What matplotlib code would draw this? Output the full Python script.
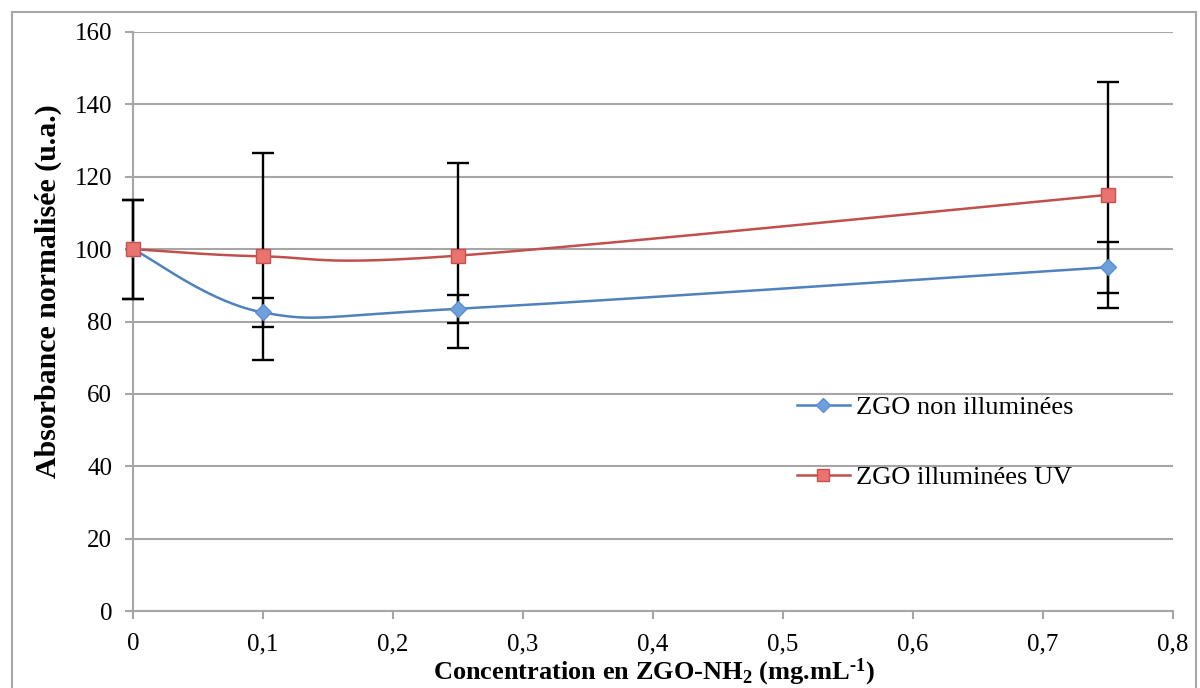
import numpy as np
import matplotlib
matplotlib.use("Agg")
import matplotlib.pyplot as plt
from matplotlib.patches import Rectangle

plt.rcParams['font.family'] = ['Liberation Serif', 'DejaVu Serif']
plt.rcParams['mathtext.fontset'] = 'custom'
plt.rcParams['mathtext.rm'] = 'Liberation Serif:bold'
plt.rcParams['mathtext.bf'] = 'Liberation Serif:bold'
plt.rcParams['mathtext.it'] = 'Liberation Serif:bold'

conc = [0, 0.1, 0.25, 0.75]
non_illum = [100, 82.5, 83.5, 95.0]
non_illum_err = [13.7, 4.0, 3.8, 7.1]
illum_uv = [100, 98.0, 98.2, 115.0]
illum_uv_err = [13.7, 28.6, 25.6, 31.2]
labels = ["ZGO non illuminées", "ZGO illuminées UV"]
xticks = [0, 0.1, 0.2, 0.3, 0.4, 0.5, 0.6, 0.7, 0.8]
yticks = [0, 20, 40, 60, 80, 100, 120, 140, 160]


def smooth(x, y, sx=1300.0, sy=3.619, n=60):
    """Excel-like smoothed line (cardinal Bezier) computed in pixel-scaled space."""
    P = np.column_stack([np.array(x) * sx, np.array(y) * sy])
    out = []
    m = len(P)
    for i in range(m - 1):
        p0 = P[i - 1] if i > 0 else P[i]
        p1 = P[i]
        p2 = P[i + 1]
        p3 = P[i + 2] if i + 2 < m else P[i + 1]
        c1 = p1 + (p2 - p0) / 6.0
        c2 = p2 - (p3 - p1) / 6.0
        t = np.linspace(0, 1, n)[:, None]
        seg = ((1 - t) ** 3) * p1 + 3 * ((1 - t) ** 2) * t * c1 + 3 * (1 - t) * t ** 2 * c2 + t ** 3 * p2
        out.append(seg if i == 0 else seg[1:])
    S = np.vstack(out)
    return S[:, 0] / sx, S[:, 1] / sy


fig = plt.figure(figsize=(12, 6.88), dpi=100)
ax = fig.add_axes([133 / 1200, 1 - 611 / 688, (1173 - 133) / 1200, (611 - 32) / 688])

fig.patches.append(Rectangle((12 / 1200, -0.01), (1196 - 12) / 1200, 1 - 12 / 688 + 0.01,
                             transform=fig.transFigure, fill=False, edgecolor='#a6a6a6', lw=1.5))

blue = '#4F81BD'
red = '#C0504D'

for vals, errs in [(illum_uv, illum_uv_err), (non_illum, non_illum_err)]:
    eb = ax.errorbar(conc, vals, yerr=errs, fmt='none', ecolor='black', elinewidth=1.7,
                     capsize=8, capthick=1.7, zorder=3)
    for art in list(eb.lines[1]) + list(eb.lines[2]):
        art.set_clip_on(False)

bx, by = smooth(conc, non_illum)
rx, ry = smooth(conc, illum_uv)
ax.plot(bx, by, color=blue, lw=1.8, zorder=4, clip_on=False)
ax.plot(rx, ry, color=red, lw=1.8, zorder=4, clip_on=False)
ax.plot(conc, non_illum, linestyle='none', marker='D', markersize=8, markerfacecolor='#6fa0dc',
        markeredgecolor='#5b8fd0', zorder=5, clip_on=False)
ax.plot(conc, illum_uv, linestyle='none', marker='s', markersize=10, markerfacecolor='#e8736f',
        markeredgecolor='#c9504c', zorder=5, clip_on=False)

h1, = ax.plot([], [], color=blue, lw=1.8, marker='D', markersize=7, markerfacecolor='#6fa0dc',
              markeredgecolor='#5b8fd0')
h2, = ax.plot([], [], color=red, lw=1.8, marker='s', markersize=9, markerfacecolor='#e8736f',
              markeredgecolor='#c9504c')
ax.legend([h1, h2], labels, loc='upper left', bbox_to_anchor=(0.6154, 0.4136), frameon=False,
          prop={'family': 'Liberation Serif', 'size': 19}, handlelength=2.0,
          handletextpad=0.25, labelspacing=1.78)

ax.set_xlim(0, 0.8)
ax.set_ylim(0, 160)
ax.set_xticks(xticks)
ax.set_xticklabels([("%g" % v).replace('.', ',') for v in xticks], fontsize=18)
ax.set_yticks(yticks)
ax.set_yticklabels([str(v) for v in yticks], fontsize=18)
ax.yaxis.grid(True, color='#a6a6a6', lw=1.5)
ax.set_axisbelow(True)
for s in ['top', 'right']:
    ax.spines[s].set_visible(False)
for s in ['left', 'bottom']:
    ax.spines[s].set_color('#a6a6a6')
    ax.spines[s].set_linewidth(1.5)
ax.tick_params(axis='both', color='#a6a6a6', width=1.5, length=6, direction='out')
ax.tick_params(axis='x', pad=10)
ax.tick_params(axis='y', pad=9)

ax.set_xlabel(r'Concentration en ZGO-NH$_2$ (mg.mL$^{\text{-}1}$)', fontsize=19,
              fontweight='bold')
ax.xaxis.set_label_coords(0.501, -0.078)
ax.set_ylabel('Absorbance normalisée (u.a.)', fontsize=21.5, fontweight='bold')
ax.yaxis.set_label_coords(-0.068, 0.553)

fig.savefig('out.png', dpi=100)
